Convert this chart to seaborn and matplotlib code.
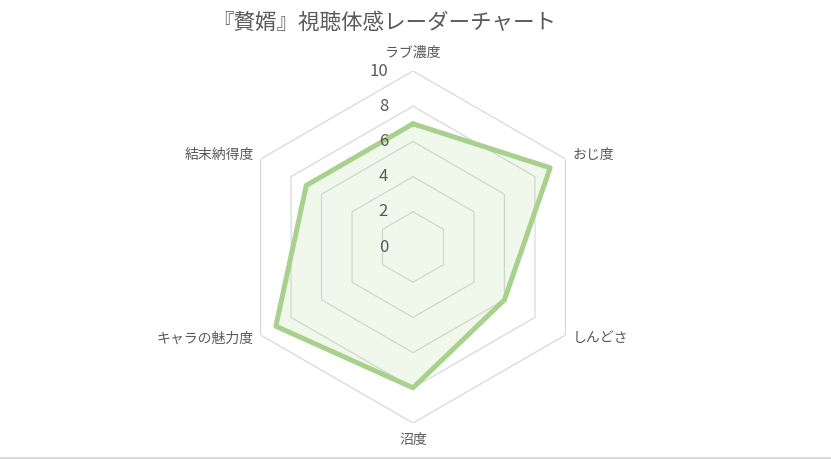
import numpy as np
import matplotlib
matplotlib.use("Agg")
import matplotlib.pyplot as plt
from matplotlib.lines import Line2D
import seaborn as sns

# chart data
categories = ['ラブ濃度', 'おじ度', 'しんどさ', '沼度', 'キャラの魅力度', '結末納得度']
scores = [7, 9, 6, 8, 9, 7]
rings = [2, 4, 6, 8, 10]
ring_labels = ['0', '2', '4', '6', '8', '10']
title = '『贅婿』視聴体感レーダーチャート'

sns.set_style('white')
plt.rcParams['font.family'] = ['Noto Sans CJK JP', 'DejaVu Sans']

text_color = '#595959'
grid_color = '#d9d9d9'
line_color = '#a9d18e'

n = len(categories)
angles = np.linspace(0, 2 * np.pi, n, endpoint=False)
# close the loop at 2*pi (same direction as 0, but a distinct x for seaborn)
angles_closed = np.append(angles, 2 * np.pi)
scores_closed = scores + scores[:1]

fig = plt.figure(figsize=(8.31, 4.59), dpi=100)
ax = fig.add_axes([0.2852, 0.0784, 0.4236, 0.7669], projection='polar')
ax.set_theta_offset(np.pi / 2)
ax.set_theta_direction(-1)
ax.set_ylim(0, 10)
ax.grid(False)
ax.spines['polar'].set_visible(False)
ax.set_xticks([])
ax.set_yticks([])
ax.patch.set_alpha(0)

# hexagonal grid
for r in rings:
    ax.plot(angles_closed, [r] * (n + 1), color=grid_color, lw=0.9, zorder=1)

# data
ax.fill(angles_closed, scores_closed, color=line_color, alpha=0.17, lw=0, zorder=2)
sns.lineplot(x=angles_closed, y=scores_closed, sort=False, ax=ax,
             color=line_color, lw=3.6, zorder=3)
ax.set_xlabel('')
ax.set_ylabel('')

# radial tick labels along the top axis
for v, lab in zip([0] + rings, ring_labels):
    ax.annotate(lab, xy=(0, v), xytext=(-18, 0), textcoords='offset points',
                ha='right', va='center', fontsize=12, color=text_color)

# category labels
offsets = [(0, 13, 'center'), (5, 3, 'left'), (5, -2.5, 'left'),
           (0, -12, 'center'), (-5, -2.5, 'right'), (-5, 3, 'right')]
for ang, cat, (dx, dy, ha) in zip(angles, categories, offsets):
    ax.annotate(cat, xy=(ang, 10), xytext=(dx, dy), textcoords='offset points',
                ha=ha, va='center', fontsize=10, color=text_color)

fig.text(384 / 831, 1 - 23 / 459, title, ha='center', va='center',
         fontsize=15.5, color=text_color)

fig.add_artist(Line2D([0, 1], [1.2 / 459, 1.2 / 459], transform=fig.transFigure,
                      color=grid_color, lw=1.5))

fig.savefig('out.png', dpi=100)
